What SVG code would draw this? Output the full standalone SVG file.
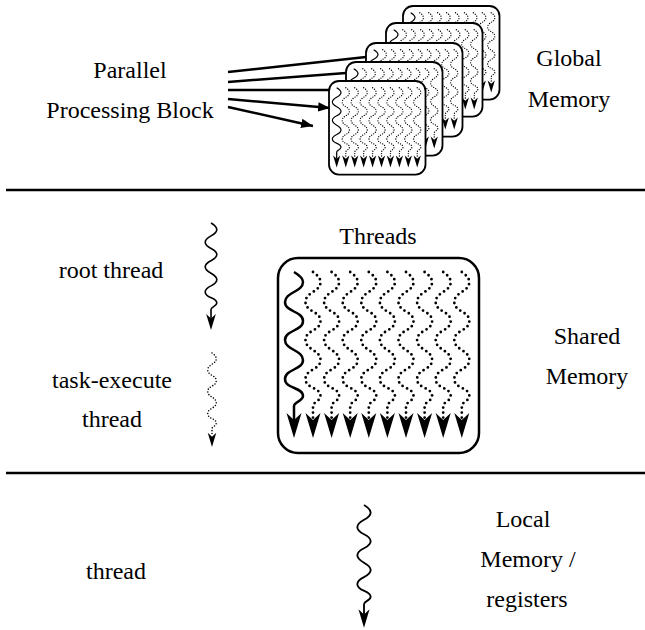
<svg xmlns="http://www.w3.org/2000/svg" xmlns:xlink="http://www.w3.org/1999/xlink" width="645" height="630" viewBox="0 0 645 630">
<style>
.solid{fill:none;stroke:#000;stroke-width:2.5;stroke-linejoin:round}
.dot{fill:none;stroke:#000;stroke-width:2.8;stroke-linecap:round;stroke-dasharray:0 5}
.head{fill:#000;stroke:none}
.box{fill:#fff;stroke:#000;stroke-width:2.5}
.card{fill:#fff;stroke:#000;stroke-width:1.8}
.sep{stroke:#000;stroke-width:2.5}
.conn{stroke:#000;stroke-width:2.5;fill:none}
</style>
<defs>
<path id="wave9" d="M0,0 C5,3 9,6 9,10 C9,20 -9,20 -9,30 C-9,40 9,39 9,49 C9,59 -9,58 -9,68 C-9,78 9,78 9,88 C9,98 -9,97 -9,107 C-9,117 9,115 9,124 C9,129 0,130 0,134 L0,148"/>
<path id="wave7" d="M0,0 C4,3 7.5,6 7.5,10 C7.5,20 -7.5,20 -7.5,30 C-7.5,40 7.5,39 7.5,49 C7.5,59 -7.5,58 -7.5,68 C-7.5,78 7.5,78 7.5,88 C7.5,98 -7.5,97 -7.5,107 C-7.5,117 7.5,115 7.5,124 C7.5,129 0,130 0,134 L0,146"/>
<path id="barb" d="M0,166 L-7.5,141 L0,148 L7.5,141 Z"/>
<g id="solidThread">
<use xlink:href="#wave9" class="solid"/>
<use xlink:href="#barb" class="head"/>
</g>
<g id="dotThread">
<use xlink:href="#wave7" class="dot"/>
<use xlink:href="#barb" class="head"/>
</g>
<g id="blockThreads">
<use xlink:href="#solidThread" x="294" y="272"/>
<use xlink:href="#dotThread" x="313" y="272"/>
<use xlink:href="#dotThread" x="331.6" y="272"/>
<use xlink:href="#dotThread" x="350.2" y="272"/>
<use xlink:href="#dotThread" x="368.8" y="272"/>
<use xlink:href="#dotThread" x="387.4" y="272"/>
<use xlink:href="#dotThread" x="406" y="272"/>
<use xlink:href="#dotThread" x="424.6" y="272"/>
<use xlink:href="#dotThread" x="443.2" y="272"/>
<use xlink:href="#dotThread" x="461.8" y="272"/>
</g>
<marker id="arr" viewBox="0 0 10 8" refX="10" refY="4" markerWidth="4.8" markerHeight="3.8" orient="auto" markerUnits="strokeWidth">
<path d="M0,0 L10,4 L0,8 Z" fill="#000"/>
</marker>
</defs>
<rect width="645" height="630" fill="#fff"/>

<g id="separators">
<line class="sep" x1="6" y1="190" x2="645" y2="190"/>
<line class="sep" x1="6" y1="473" x2="645" y2="473"/>
</g>

<g id="global-memory-cards">
<g id="card5">
<rect class="card" x="403" y="6" width="96.5" height="93.6" rx="10"/>
<use xlink:href="#blockThreads" transform="translate(403,6) scale(0.48) translate(-278,-258)"/>
</g>
<g id="card4">
<rect class="card" x="386" y="23" width="96.5" height="93.6" rx="10"/>
<use xlink:href="#blockThreads" transform="translate(386,23) scale(0.48) translate(-278,-258)"/>
</g>
<g id="card3">
<rect class="card" x="366" y="43" width="96.5" height="93.6" rx="10"/>
<use xlink:href="#blockThreads" transform="translate(366,43) scale(0.48) translate(-278,-258)"/>
</g>
<g id="card2">
<rect class="card" x="346" y="62" width="96.5" height="93.6" rx="10"/>
<use xlink:href="#blockThreads" transform="translate(346,62) scale(0.48) translate(-278,-258)"/>
</g>
<g id="card1">
<rect class="card" x="329" y="81" width="96.5" height="93.6" rx="10"/>
<use xlink:href="#blockThreads" transform="translate(329,81) scale(0.48) translate(-278,-258)"/>
</g>
</g>

<g id="connectors">
<line class="conn" x1="228" y1="72" x2="366" y2="57"/>
<line class="conn" x1="228" y1="82" x2="346" y2="73"/>
<line class="conn" x1="228" y1="90" x2="329" y2="90"/>
<line class="conn" x1="228" y1="99" x2="330" y2="108" marker-end="url(#arr)"/>
<line class="conn" x1="228" y1="107" x2="313" y2="126" marker-end="url(#arr)"/>
</g>

<g id="labels" font-family="Liberation Serif, Times New Roman, serif" font-size="24" text-anchor="middle" fill="#000">
<g id="label-ppb">
<text x="130" y="78">Parallel</text>
<text x="130" y="118">Processing Block</text>
</g>
<g id="label-global">
<text x="569" y="66">Global</text>
<text x="569" y="107">Memory</text>
</g>
<g id="label-threads"><text x="378" y="244">Threads</text></g>
<g id="label-root"><text x="111" y="278">root thread</text></g>
<g id="label-task">
<text x="112" y="388">task-execute</text>
<text x="112" y="427">thread</text>
</g>
<g id="label-shared">
<text x="587" y="344">Shared</text>
<text x="587" y="384">Memory</text>
</g>
<g id="label-thread"><text x="116" y="579">thread</text></g>
<g id="label-local">
<text x="523" y="527">Local</text>
<text x="528" y="567">Memory /</text>
<text x="527" y="607">registers</text>
</g>
</g>

<g id="thread-block">
<rect class="box" x="278" y="258" width="201" height="195" rx="20"/>
<use xlink:href="#blockThreads"/>
</g>
<g id="root-thread">
<use xlink:href="#solidThread" transform="translate(211,223) scale(0.645)"/>
</g>
<g id="task-thread">
<use xlink:href="#dotThread" transform="translate(212,353) scale(0.566)"/>
</g>
<g id="local-thread">
<use xlink:href="#solidThread" transform="translate(364,505) scale(0.74)"/>
</g>
</svg>
